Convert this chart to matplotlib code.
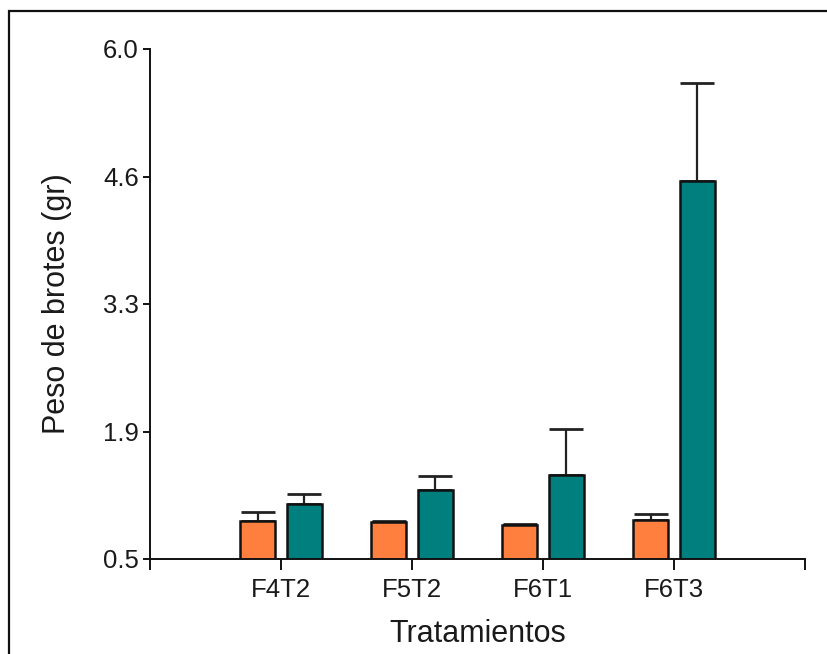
import matplotlib
matplotlib.use("Agg")
import matplotlib.pyplot as plt
from matplotlib.patches import Rectangle
import numpy as np

plt.rcParams['font.family'] = ['Liberation Sans', 'DejaVu Sans']

categories = ["F4T2", "F5T2", "F6T1", "F6T3"]
orange_vals = [0.905, 0.895, 0.870, 0.925]
orange_err = [0.10, 0.012, 0.012, 0.055]
teal_vals = [1.09, 1.245, 1.41, 4.58]
teal_err = [0.11, 0.145, 0.49, 1.05]
ytick_vals = [0.5, 1.875, 3.25, 4.625, 6.0]
ytick_labels = ["0.5", "1.9", "3.3", "4.6", "6.0"]
xlabel = "Tratamientos"
ylabel = "Peso de brotes (gr)"

orange = "#FF7F3F"
teal = "#007F7F"
txt = "#1a1a1a"

fig = plt.figure(figsize=(8.27, 6.54), dpi=100)
ax = fig.add_axes([150/827, 1-559/654, (805-150)/827, (559-49)/654])

x = np.arange(1, len(categories)+1)
w = 0.27
off = 0.178
ekw = dict(ecolor="#222222", elinewidth=1.6, capthick=2.0)
ax.bar(x-off, orange_vals, width=w, bottom=0, color=orange, edgecolor="#111111", linewidth=1.8, zorder=2)
ax.errorbar(x-off, orange_vals, yerr=[np.zeros(4), orange_err], fmt='none', capsize=12.5, zorder=1, **ekw)
ax.bar(x+off, teal_vals, width=w, bottom=0, color=teal, edgecolor="#111111", linewidth=1.8, zorder=2)
ax.errorbar(x+off, teal_vals, yerr=[np.zeros(4), teal_err], fmt='none', capsize=12.5, zorder=1, **ekw)

ax.set_xlim(0, 5)
ax.set_ylim(0.5, 6.0)
ax.set_yticks(ytick_vals)
ax.set_yticklabels(ytick_labels)
ax.set_xticks(np.arange(0, 6))
ax.set_xticklabels([""] + categories + [""])

for s in ["top", "right"]:
    ax.spines[s].set_visible(False)
for s in ["left", "bottom"]:
    ax.spines[s].set_linewidth(1.4)
    ax.spines[s].set_color("#111111")

ax.tick_params(axis='y', direction='out', length=5, width=1.4, labelsize=18.5, colors="#111111", labelcolor=txt, pad=3)
ax.tick_params(axis='x', direction='out', length=8, width=1.4, labelsize=18.5, colors="#111111", labelcolor=txt, pad=6)

ax.set_xlabel(xlabel, fontsize=22, color=txt, labelpad=12)
ax.set_ylabel(ylabel, fontsize=22, color=txt, labelpad=22)

# outer frame (left and top edges visible)
fig.patches.append(Rectangle((8.5/827, -0.1), 1.2, 1 - 11/654 + 0.1, transform=fig.transFigure,
                             fill=False, edgecolor="#111111", linewidth=1.6))

fig.savefig("out.png", dpi=100)
